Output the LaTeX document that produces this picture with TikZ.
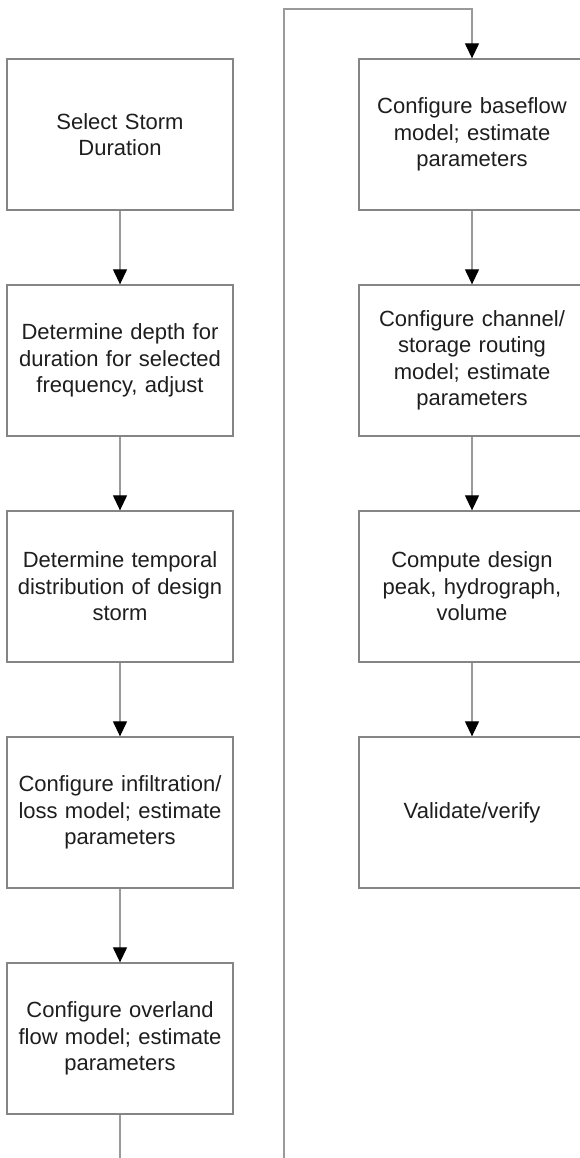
\documentclass[tikz,border=0pt]{standalone}
\usepackage{fontspec}
\setmainfont{Liberation Sans}
\usetikzlibrary{arrows.meta}
\definecolor{boxline}{HTML}{858585}
\definecolor{connline}{HTML}{9A9A9A}
\definecolor{txt}{HTML}{1E1E1E}
\tikzset{
  stepbox/.style={draw=boxline, line width=1.3pt, minimum width=226pt, minimum height=151pt,
    inner sep=0pt, align=center, text width=220pt, text=txt,
    font=\fontsize{22}{26.5}\selectfont},
  conn/.style={draw=connline, line width=1.2pt, -{Triangle[width=14pt,length=15pt,fill=black,color=black]}},
}
\begin{document}
\begin{tikzpicture}[x=1pt,y=-1pt]
\useasboundingbox (0,0) rectangle (580,1158);
\clip (0,0) rectangle (580,1158);
\fill[white] (0,0) rectangle (580,1158);
% left column
\node[stepbox] (b1) at (120,134.5) {Select Storm\\Duration};
\node[stepbox] (b2) at (120,360.5) {Determine depth for\\duration for selected\\frequency, adjust};
\node[stepbox] (b3) at (120,586.5) {Determine temporal\\distribution of design\\storm};
\node[stepbox] (b4) at (120,812.5) {Configure infiltration/\\loss model; estimate\\parameters};
\node[stepbox] (b5) at (120,1038.5) {Configure overland\\flow model; estimate\\parameters};
% right column
\node[stepbox] (r1) at (472,134.5) {Configure baseflow\\model; estimate\\parameters};
\node[stepbox] (r2) at (472,360.5) {Configure channel/\\storage routing\\model; estimate\\parameters};
\node[stepbox] (r3) at (472,586.5) {Compute design\\peak, hydrograph,\\volume};
\node[stepbox] (r4) at (472,812.5) {Validate/verify};
% connectors
\draw[conn] (b1) -- (b2);
\draw[conn] (b2) -- (b3);
\draw[conn] (b3) -- (b4);
\draw[conn] (b4) -- (b5);
\coordinate (turnA) at (284,1190);
\coordinate (turnB) at (284,9);
\draw[conn] (b5.south) |- (turnA) -- (turnB) -| (r1.north);
\draw[conn] (r1) -- (r2);
\draw[conn] (r2) -- (r3);
\draw[conn] (r3) -- (r4);
\end{tikzpicture}
\end{document}
